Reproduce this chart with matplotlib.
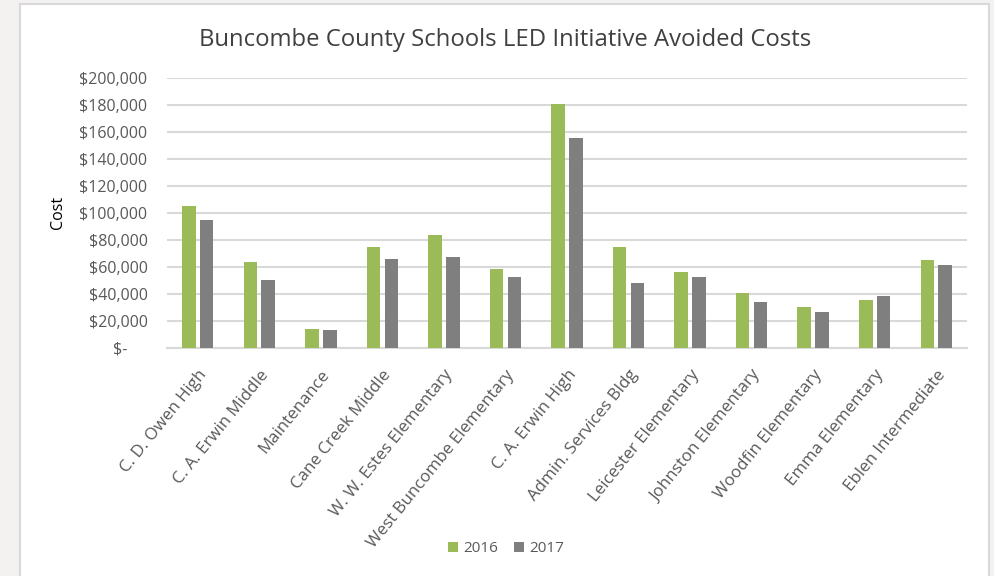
import matplotlib.pyplot as plt
import matplotlib.patches as mpatches
import numpy as np

schools = ["C. D. Owen High", "C. A. Erwin Middle", "Maintenance", "Cane Creek Middle",
           "W. W. Estes Elementary", "West Buncombe Elementary", "C. A. Erwin High",
           "Admin. Services Bldg", "Leicester Elementary", "Johnston Elementary",
           "Woodfin Elementary", "Emma Elementary", "Eblen Intermediate"]
cost_2016 = [105200, 63500, 13600, 74800, 83500, 58000, 180700,
             74800, 55800, 40200, 29900, 35300, 64900]
cost_2017 = [94600, 50100, 12800, 65700, 67200, 52300, 155300,
             48100, 52300, 33800, 26200, 38300, 61500]
yticks = [0, 20000, 40000, 60000, 80000, 100000, 120000, 140000, 160000, 180000, 200000]
ytick_labels = ["$-     ", "$20,000", "$40,000", "$60,000", "$80,000", "$100,000",
                "$120,000", "$140,000", "$160,000", "$180,000", "$200,000"]

GREEN = "#9BBB59"
GRAY = "#7F7F7F"
TEXT = "#595959"


def main():
    plt.rcParams['font.family'] = ['Open Sans', 'DejaVu Sans']
    fig = plt.figure(figsize=(9.95, 5.76), dpi=100)
    fig.patch.set_facecolor("#F3F2F0")
    # white chart panel
    fig.patches.append(mpatches.Rectangle((20 / 995, -0.01), 969 / 995, 1 - 4 / 576 + 0.01,
                                          transform=fig.transFigure, facecolor="white",
                                          edgecolor="#D9D9D9", linewidth=1.5, zorder=-10))

    ax = fig.add_axes([167 / 995, 1 - 347.7 / 576, 800 / 995, 270 / 576])
    ax.set_facecolor("none")
    x = np.arange(len(schools))
    w = 0.22
    ax.bar(x - 0.145, cost_2016, w, color=GREEN, label="2016", zorder=3)
    ax.bar(x + 0.145, cost_2017, w, color=GRAY, label="2017", zorder=3)

    ax.set_xlim(-0.5, len(schools) - 0.5)
    ax.set_ylim(0, 200000)
    ax.set_yticks(yticks)
    ax.set_yticklabels(ytick_labels, fontsize=11.5, color=TEXT)
    ax.grid(True, axis='y', color="#D9D9D9", linewidth=1.5, zorder=0)
    ax.tick_params(axis='y', length=0, pad=14)
    ax.tick_params(axis='x', length=0, pad=14)
    ax.set_xticks(x)
    ax.set_xticklabels(schools, rotation=51, ha='right', rotation_mode='anchor',
                       fontsize=12.2, color=TEXT)
    for s in ["top", "right", "left"]:
        ax.spines[s].set_visible(False)
    ax.spines["bottom"].set_color("#D9D9D9")
    ax.spines["bottom"].set_linewidth(1.5)

    ax.set_ylabel("Cost", fontsize=11.5, color="black", labelpad=10)
    fig.text(505 / 995, 1 - 40 / 576, "Buncombe County Schools LED Initiative Avoided Costs",
             ha='center', va='center', fontsize=17.2, color="#404040")
    fig.legend(loc='center', bbox_to_anchor=(506 / 995, 1 - 549 / 576), ncol=2,
               frameon=False, fontsize=11, handlelength=0.65, handleheight=0.65,
               handletextpad=0.35, columnspacing=1.0, labelcolor=TEXT)

    fig.savefig("out.png", dpi=100, facecolor=fig.get_facecolor())


if __name__ == '__main__':
    main()
